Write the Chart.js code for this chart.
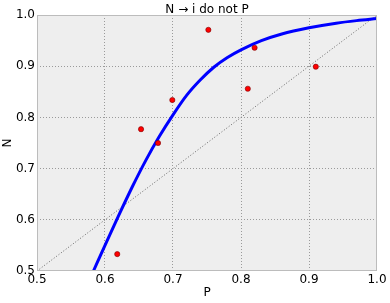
<!DOCTYPE html>
<html>
<head>
<meta charset="utf-8">
<script src="https://cdn.jsdelivr.net/npm/chart.js@4/dist/chart.umd.min.js"></script>
<style>
  html, body { margin: 0; padding: 0; background: #ffffff; }
  #wrap { width: 390px; height: 303px; }
</style>
</head>
<body>
<div id="wrap"><canvas id="c" width="390" height="303"></canvas></div>
<script>
// Observed points (P, N)
const pointP = [0.618, 0.653, 0.678, 0.699, 0.752, 0.810, 0.820, 0.910];
const pointN = [0.533, 0.777, 0.750, 0.834, 0.971, 0.856, 0.936, 0.899];

// Fitted curve
const curveP = [0.583, 0.600, 0.620, 0.640, 0.660, 0.680, 0.700, 0.720, 0.740, 0.760, 0.780, 0.800, 0.830, 0.860, 0.900, 0.940, 0.970, 1.000];
const curveN = [0.500, 0.550, 0.608, 0.664, 0.716, 0.763, 0.805, 0.843, 0.873, 0.898, 0.917, 0.932, 0.950, 0.963, 0.975, 0.984, 0.989, 0.993];

// Diagonal reference line
const diagP = [0.5, 1.0];
const diagN = [0.5, 1.0];

const tickValues = [0.5, 0.6, 0.7, 0.8, 0.9, 1.0];

const titleText = 'N \u2192 i do not P';

const toXY = (xs, ys) => xs.map((x, i) => ({ x: x, y: ys[i] }));

const FONT = "'DejaVu Sans', sans-serif";

const bgPlugin = {
  id: 'bg',
  beforeDraw(chart) {
    const { ctx, chartArea: a } = chart;
    ctx.save();
    ctx.fillStyle = '#eeeeee';
    ctx.fillRect(a.left, a.top, a.right - a.left, a.bottom - a.top);
    ctx.restore();
  },
  afterDraw(chart) {
    const { ctx, chartArea: a } = chart;
    ctx.save();
    ctx.strokeStyle = '#bcbcbc';
    ctx.lineWidth = 1;
    ctx.strokeRect(Math.round(a.left) + 0.5, Math.round(a.top) + 0.5,
                   Math.round(a.right - a.left) - 1, Math.round(a.bottom - a.top) - 1);
    // title centred over the plot area
    ctx.fillStyle = '#000000';
    ctx.font = "12px " + FONT;
    ctx.textAlign = 'center';
    ctx.textBaseline = 'alphabetic';
    ctx.fillText(titleText, (a.left + a.right) / 2, a.top - 2.5);
    ctx.restore();
  }
};

const gridColor = (c) => (c.tick && (Math.abs(c.tick.value - 0.5) < 1e-9 || Math.abs(c.tick.value - 1.0) < 1e-9)) ? 'rgba(0,0,0,0)' : '#9a9a9a';

new Chart(document.getElementById('c'), {
  type: 'scatter',
  data: {
    datasets: [
      {
        label: 'data',
        data: toXY(pointP, pointN),
        backgroundColor: '#ff0000',
        borderColor: '#7a0000',
        borderWidth: 0.6,
        pointRadius: 2.6,
        order: 0
      },
      {
        label: 'fit',
        data: toXY(curveP, curveN),
        showLine: true,
        borderColor: '#0000ff',
        borderWidth: 3,
        pointRadius: 0,
        cubicInterpolationMode: 'monotone',
        fill: false,
        order: 1
      },
      {
        label: 'diag',
        data: toXY(diagP, diagN),
        showLine: true,
        borderColor: '#444444',
        borderWidth: 0.8,
        borderDash: [1, 2],
        pointRadius: 0,
        fill: false,
        order: 2
      }
    ]
  },
  options: {
    responsive: false,
    animation: false,
    devicePixelRatio: 1,
    layout: { padding: { left: 0, right: 13, top: 15, bottom: 0 } },
    plugins: {
      legend: { display: false },
      tooltip: { enabled: false },
      title: { display: false }
    },
    scales: {
      x: {
        type: 'linear',
        min: 0.5, max: 1.0,
        afterBuildTicks(scale) { scale.ticks = tickValues.map(v => ({ value: v })); },
        afterFit(scale) { scale.height = 32; },
        border: { display: false, dash: [1, 2] },
        grid: {
          color: gridColor,
          lineWidth: 1,
          drawTicks: false
        },
        ticks: {
          color: '#000000',
          padding: 2,
          maxRotation: 0,
          font: { family: FONT, size: 12 },
          callback: (v) => Number(v).toFixed(1)
        },
        title: {
          display: true,
          text: 'P',
          color: '#000000',
          font: { family: FONT, size: 12 },
          padding: { top: 0, bottom: 3 }
        }
      },
      y: {
        type: 'linear',
        min: 0.5, max: 1.0,
        afterBuildTicks(scale) { scale.ticks = tickValues.map(v => ({ value: v })); },
        afterFit(scale) { scale.width = 37; },
        border: { display: false, dash: [1, 2] },
        grid: {
          color: gridColor,
          lineWidth: 1,
          drawTicks: false
        },
        ticks: {
          color: '#000000',
          padding: 2,
          font: { family: FONT, size: 12 },
          callback: (v) => Number(v).toFixed(1)
        },
        title: {
          display: true,
          text: 'N',
          color: '#000000',
          font: { family: FONT, size: 12 },
          padding: { top: 1, bottom: 0 }
        }
      }
    }
  },
  plugins: [bgPlugin]
});
</script>
</body>
</html>
